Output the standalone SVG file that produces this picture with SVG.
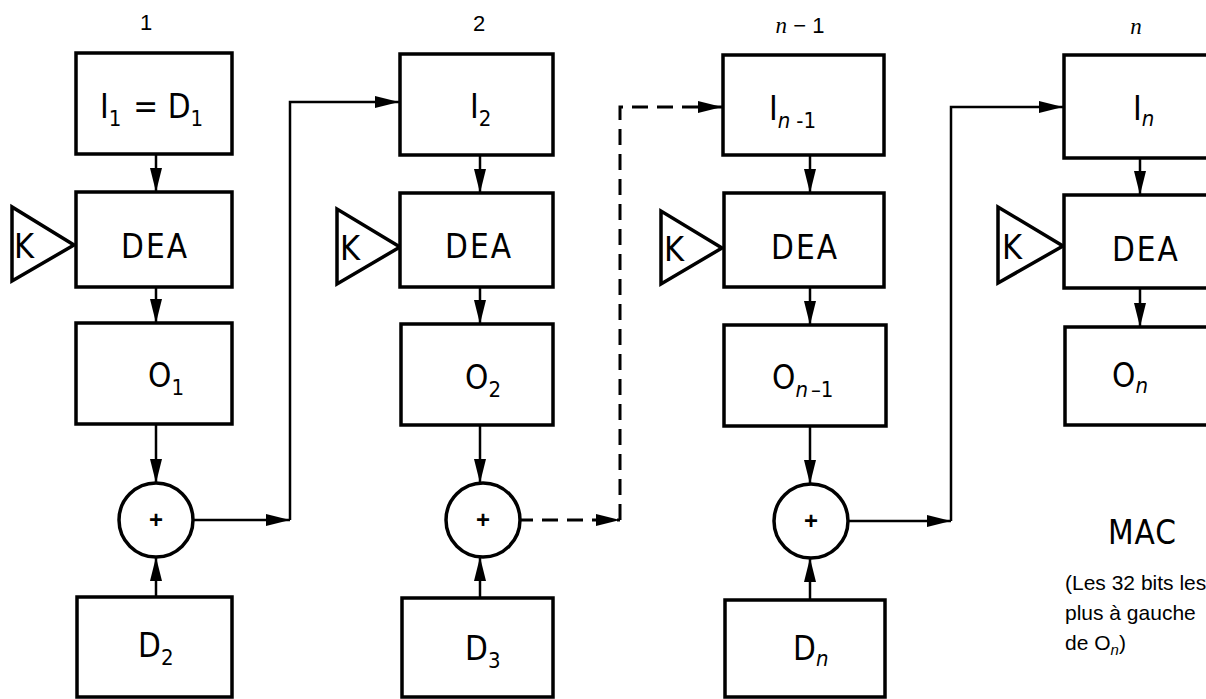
<svg xmlns="http://www.w3.org/2000/svg" width="1206" height="699" viewBox="0 0 1206 699">
<style>
.box{fill:#fff;stroke:#000;stroke-width:3.5}
.tri{fill:#fff;stroke:#000;stroke-width:3.5;stroke-linejoin:miter}
.sum{fill:#fff;stroke:#000;stroke-width:3.5}
.ln{fill:none;stroke:#000;stroke-width:2.5}
.dash{fill:none;stroke:#000;stroke-width:3;stroke-dasharray:16 9}
.t{font-family:'Liberation Sans Narrow','DejaVu Sans Condensed','Liberation Sans',sans-serif;font-stretch:condensed;font-size:33px;fill:#000}
.k{font-family:'Liberation Sans Narrow','DejaVu Sans Condensed','Liberation Sans',sans-serif;font-stretch:condensed;font-size:34px;fill:#000}
.sub{font-size:22px}
.it{font-style:italic}
.hd{font-family:'Liberation Sans',Arial,sans-serif;font-size:22px;fill:#000}
.hn{font-family:'Liberation Serif','Times New Roman',serif;font-style:italic;font-size:23px;fill:#000}
.p{font-family:'Liberation Sans','DejaVu Sans Condensed',sans-serif;font-size:24px;font-weight:bold;fill:#000}
.note{font-family:'Liberation Sans',Arial,sans-serif;font-size:21px;fill:#000}
</style>
<defs>
<marker id="ah" markerUnits="userSpaceOnUse" markerWidth="24" markerHeight="12" viewBox="0 0 24 12" refX="24" refY="6" orient="auto">
<path d="M0,0 L24,6 L0,12 z" fill="#000"/>
</marker>
</defs>
<rect width="1206" height="699" fill="#fff"/>

<g id="labels">
<text class="hd" x="146" y="30" text-anchor="middle">1</text>
<text class="hd" x="479" y="31" text-anchor="middle">2</text>
<text class="hn" x="800" y="33" text-anchor="middle">n<tspan font-style="normal" font-family="'Liberation Sans',Arial,sans-serif" font-size="22px"> − 1</tspan></text>
<text class="hn" x="1136" y="34" text-anchor="middle">n</text>
</g>

<g id="connectors">
<line class="ln" x1="156" y1="154" x2="156" y2="192" marker-end="url(#ah)"/>
<line class="ln" x1="156" y1="287" x2="156" y2="323" marker-end="url(#ah)"/>
<line class="ln" x1="156" y1="424" x2="156" y2="483" marker-end="url(#ah)"/>
<line class="ln" x1="156" y1="597" x2="156" y2="557" marker-end="url(#ah)"/>
<line class="ln" x1="193" y1="520" x2="290" y2="520" marker-end="url(#ah)"/>
<path class="ln" d="M290,520 V102 H399" marker-end="url(#ah)"/>

<line class="ln" x1="480" y1="155" x2="480" y2="193" marker-end="url(#ah)"/>
<line class="ln" x1="480" y1="287" x2="480" y2="324" marker-end="url(#ah)"/>
<line class="ln" x1="480" y1="425" x2="480" y2="483" marker-end="url(#ah)"/>
<line class="ln" x1="480" y1="598" x2="480" y2="557" marker-end="url(#ah)"/>
<line class="dash" x1="517" y1="520" x2="620" y2="520" marker-end="url(#ah)"/>
<path class="dash" d="M620,520 V107 H722" marker-end="url(#ah)"/>

<line class="ln" x1="810" y1="155" x2="810" y2="193" marker-end="url(#ah)"/>
<line class="ln" x1="810" y1="287" x2="810" y2="325" marker-end="url(#ah)"/>
<line class="ln" x1="810" y1="426" x2="810" y2="484" marker-end="url(#ah)"/>
<line class="ln" x1="810" y1="600" x2="810" y2="558" marker-end="url(#ah)"/>
<line class="ln" x1="847" y1="521" x2="951" y2="521" marker-end="url(#ah)"/>
<path class="ln" d="M951,521 V107 H1063" marker-end="url(#ah)"/>

<line class="ln" x1="1140" y1="158" x2="1140" y2="195" marker-end="url(#ah)"/>
<line class="ln" x1="1140" y1="288" x2="1140" y2="327" marker-end="url(#ah)"/>
</g>

<g id="col1">
<g id="I1"><rect class="box" x="76" y="53" width="156" height="101"/>
<text class="t" x="100" y="118">I<tspan class="sub" dy="8">1</tspan><tspan dy="-8" dx="12">= D</tspan><tspan class="sub" dy="8">1</tspan></text></g>
<g id="K1"><polygon class="tri" points="12,207 12,281 74,245"/><text class="k" x="14" y="258">K</text></g>
<g id="DEA1"><rect class="box" x="76" y="192" width="156" height="95"/><text class="t" x="155" y="258" text-anchor="middle" letter-spacing="2">DEA</text></g>
<g id="O1"><rect class="box" x="76" y="323" width="156" height="101"/><text class="t" x="148" y="387">O<tspan class="sub" dy="8">1</tspan></text></g>
<g id="S1"><circle class="sum" cx="156" cy="520" r="37"/><text class="p" x="156" y="528" text-anchor="middle">+</text></g>
<g id="D2"><rect class="box" x="77" y="597" width="155" height="100"/><text class="t" x="138" y="657">D<tspan class="sub" dy="8">2</tspan></text></g>
</g>

<g id="col2">
<g id="I2"><rect class="box" x="400" y="54" width="153" height="101"/><text class="t" x="470" y="118">I<tspan class="sub" dy="8">2</tspan></text></g>
<g id="K2"><polygon class="tri" points="337,209 337,284 400,247"/><text class="k" x="340" y="260">K</text></g>
<g id="DEA2"><rect class="box" x="400" y="193" width="153" height="94"/><text class="t" x="479" y="258" text-anchor="middle" letter-spacing="2">DEA</text></g>
<g id="O2"><rect class="box" x="401" y="324" width="152" height="101"/><text class="t" x="465" y="389">O<tspan class="sub" dy="8">2</tspan></text></g>
<g id="S2"><circle class="sum" cx="483" cy="520" r="37"/><text class="p" x="483" y="528" text-anchor="middle">+</text></g>
<g id="D3"><rect class="box" x="402" y="598" width="151" height="99"/><text class="t" x="465" y="660">D<tspan class="sub" dy="8">3</tspan></text></g>
</g>

<g id="col3">
<g id="In1"><rect class="box" x="723" y="55" width="161" height="100"/><text class="t" x="769" y="120">I<tspan class="sub it" dy="8">n</tspan><tspan class="sub" dx="6">-1</tspan></text></g>
<g id="K3"><polygon class="tri" points="661,211 661,284 722,248"/><text class="k" x="664" y="261">K</text></g>
<g id="DEA3"><rect class="box" x="724" y="193" width="160" height="94"/><text class="t" x="805" y="259" text-anchor="middle" letter-spacing="2">DEA</text></g>
<g id="On1"><rect class="box" x="724" y="325" width="162" height="101"/><text class="t" x="772" y="389">O<tspan class="sub it" dy="8">n</tspan><tspan class="sub" dx="3">–1</tspan></text></g>
<g id="S3"><circle class="sum" cx="811" cy="521" r="37"/><text class="p" x="811" y="529" text-anchor="middle">+</text></g>
<g id="Dn"><rect class="box" x="725" y="600" width="160" height="97"/><text class="t" x="793" y="660">D<tspan class="sub it" dy="6">n</tspan></text></g>
</g>

<g id="col4">
<g id="In"><rect class="box" x="1064" y="55" width="160" height="103"/><text class="t" x="1133" y="120">I<tspan class="sub it" dy="6">n</tspan></text></g>
<g id="K4"><polygon class="tri" points="998,207 998,283 1063,246"/><text class="k" x="1002" y="259">K</text></g>
<g id="DEA4"><rect class="box" x="1064" y="195" width="160" height="93"/><text class="t" x="1112" y="261" letter-spacing="2">DEA</text></g>
<g id="On"><rect class="box" x="1065" y="327" width="160" height="98"/><text class="t" x="1112" y="387">O<tspan class="sub it" dy="6">n</tspan></text></g>
</g>

<g id="mac">
<text class="t" x="1108" y="544" font-size="37px" letter-spacing="1">MAC</text>
<text class="note" x="1065" y="590">(Les 32 bits les</text>
<text class="note" x="1065" y="620">plus à gauche</text>
<text class="note" x="1065" y="650">de O<tspan font-size="15px" font-style="italic" dy="5">n</tspan><tspan dy="-5">)</tspan></text>
</g>
</svg>
